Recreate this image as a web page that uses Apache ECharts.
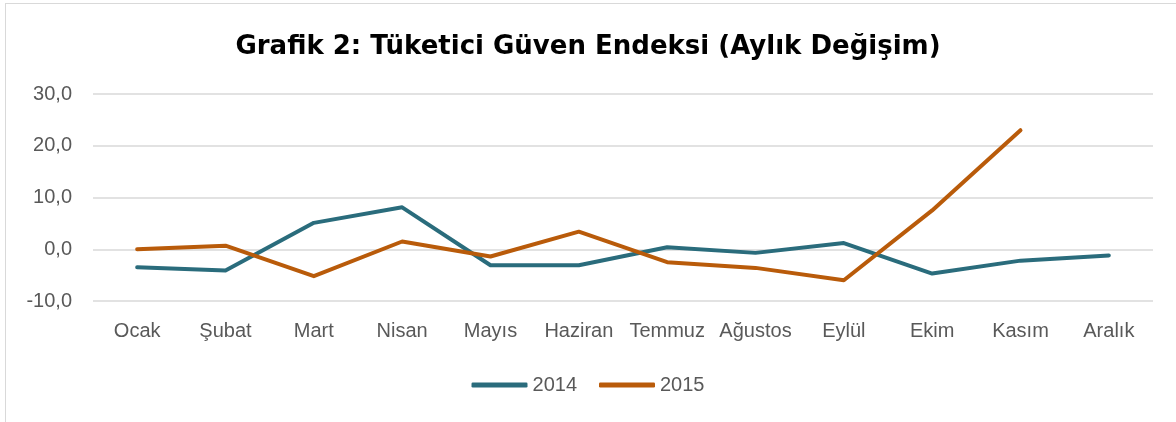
<!DOCTYPE html>
<html>
<head>
<meta charset="utf-8">
<script src="https://cdn.jsdelivr.net/npm/echarts@6/dist/echarts.min.js"></script>
<style>
  html, body { margin: 0; padding: 0; background: #fff; }
  #frame { position: absolute; left: 5px; top: 3px; width: 1180px; height: 430px; border: 1px solid #d9d9d9; }
  #chart { position: absolute; left: 0; top: 0; width: 1176px; height: 422px; }
</style>
</head>
<body>
<div id="frame"></div>
<div id="chart"></div>
<script>
  const months = ['Ocak', 'Şubat', 'Mart', 'Nisan', 'Mayıs', 'Haziran', 'Temmuz', 'Ağustos', 'Eylül', 'Ekim', 'Kasım', 'Aralık']
  const data2014 = [-3.5, -4.1, 5.1, 8.1, -3.1, -3.1, 0.4, -0.7, 1.2, -4.7, -2.2, -1.2]
  const data2015 = [0.0, 0.7, -5.2, 1.5, -1.4, 3.4, -2.5, -3.6, -6.0, 7.5, 23.0, null]

  const chart = echarts.init(document.getElementById('chart'))
  const labelColor = '#595959'

  const option = {
    animation: false,
    title: {
      text: 'Grafik 2: Tüketici Güven Endeksi (Aylık Değişim)',
      left: 'center',
      top: 29,
      textStyle: { fontFamily: 'DejaVu Sans', fontWeight: 'bold', fontSize: 26, color: '#000' }
    },
    legend: {
      bottom: 22,
      left: 'center',
      itemWidth: 56,
      itemHeight: 5,
      itemGap: 22,
      icon: 'roundRect',
      textStyle: { fontFamily: 'Liberation Sans', fontSize: 20, color: labelColor },
      data: ['2014', '2015']
    },
    grid: { left: 93, right: 23, top: 94, bottom: 121 },
    xAxis: {
      type: 'category',
      data: months,
      boundaryGap: true,
      axisLine: { show: false },
      axisTick: { show: false },
      axisLabel: { margin: 20, fontFamily: 'Liberation Sans', fontSize: 20, color: labelColor, interval: 0 }
    },
    yAxis: {
      type: 'value',
      min: -10,
      max: 30,
      interval: 10,
      axisLine: { show: false },
      axisTick: { show: false },
      splitLine: { lineStyle: { color: '#d9d9d9', width: 1.5 } },
      axisLabel: {
        margin: 21,
        fontFamily: 'Liberation Sans',
        fontSize: 20,
        color: labelColor,
        formatter: v => v.toFixed(1).replace('.', ',')
      }
    },
    series: [
      {
        name: '2014',
        type: 'line',
        data: data2014,
        symbol: 'none',
        lineStyle: { width: 4, color: '#2a6c7c', cap: 'round', join: 'round' },
        itemStyle: { color: '#2a6c7c' }
      },
      {
        name: '2015',
        type: 'line',
        data: data2015,
        symbol: 'none',
        lineStyle: { width: 4, color: '#b95b0a', cap: 'round', join: 'round' },
        itemStyle: { color: '#b95b0a' }
      }
    ]
  }
  chart.setOption(option)
</script>
</body>
</html>
